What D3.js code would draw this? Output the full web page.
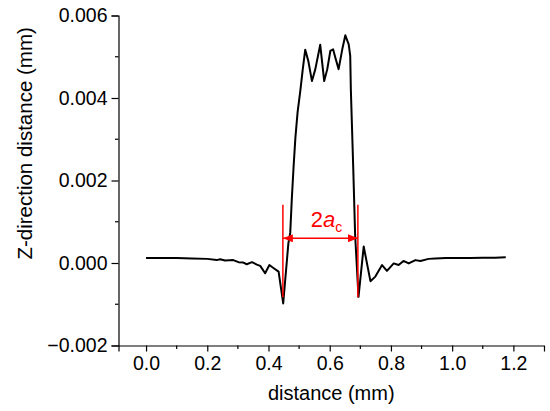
<!DOCTYPE html>
<html>
<head>
<meta charset="utf-8">
<script src="https://cdn.jsdelivr.net/npm/d3@7"></script>
<style>
  body { margin: 0; background: #fff; }
  text { font-family: "Liberation Sans", Arial, sans-serif; }
</style>
</head>
<body>
<div id="chart"></div>
<script>
// profile (mm)
var distance = [0.00, 0.05, 0.10, 0.15, 0.20, 0.231, 0.242, 0.258, 0.285, 0.302, 0.318, 0.329, 0.346, 0.362,
    0.373, 0.389, 0.403, 0.416, 0.433, 0.448, 0.465, 0.471, 0.476, 0.482, 0.488, 0.495, 0.504, 0.512,
    0.520, 0.530, 0.542, 0.553, 0.569, 0.582, 0.592, 0.602, 0.611, 0.618, 0.629, 0.641, 0.651, 0.662,
    0.667, 0.669, 0.673, 0.677, 0.683, 0.694, 0.711, 0.733, 0.749, 0.771, 0.787, 0.809, 0.825, 0.841,
    0.858, 0.880, 0.896, 0.923, 0.945, 0.98, 1.02, 1.06, 1.10, 1.14, 1.175];
var zDistance = [0.00012, 0.00012, 0.00012, 0.00011, 0.00010, 0.00007, 0.00009, 0.00006, 0.00007, 0.00002,
    0.00001, -0.00003, 0.00002, -0.00004, -0.00007, -0.00025, -0.00005, -0.00012, -0.00021, -0.00098,
    0.00048, 0.00073, 0.00153, 0.00234, 0.00305, 0.00365, 0.00418, 0.0047, 0.00517, 0.0049, 0.00441,
    0.0047, 0.00529, 0.00441, 0.0047, 0.00514, 0.00518, 0.00499, 0.0047, 0.00518, 0.00552, 0.0053,
    0.00502, 0.00421, 0.00324, 0.00226, 0.00068, -0.00082, 0.0004, -0.00044, -0.00033, -0.00005,
    -0.00019, -0.00001, -0.00005, 0.00005, -0.00001, 0.00007, 0.00005, 0.0001, 0.00011, 0.00012,
    0.00012, 0.00012, 0.00013, 0.00013, 0.00014];

var xTicks = [0.0, 0.2, 0.4, 0.6, 0.8, 1.0, 1.2];
var xMinor = [0.1, 0.3, 0.5, 0.7, 0.9, 1.1];
var yTicks = [-0.002, 0.000, 0.002, 0.004, 0.006];
var yMinor = [-0.001, 0.001, 0.003, 0.005];

// contact width marker 2a_c
var markX = [0.447, 0.692];
var markY = [-0.00083, 0.00141];
var arrowY = 0.0006;
var labelY = 0.00088;

var w = 550, h = 411;
var margin = {top: 15.5, right: 6, bottom: 65.5, left: 118.5};
var innerW = w - margin.left - margin.right,
    innerH = h - margin.top - margin.bottom;

var svg = d3.select('#chart').append('svg')
    .attr('width', w)
    .attr('height', h);

var g = svg.append('g')
    .attr('transform', 'translate(' + [margin.left, margin.top] + ')');

var x = d3.scaleLinear().domain([-0.09, 1.3]).range([0, innerW]);
var y = d3.scaleLinear().domain([-0.002, 0.006]).range([innerH, 0]);

// axes
var xAxis = g.append('g')
    .attr('transform', 'translate(0,' + innerH + ')')
    .call(d3.axisBottom(x).tickValues(xTicks).tickFormat(d3.format('.1f')).tickSizeOuter(0).tickSize(6).tickPadding(5));
xAxis.selectAll('line.minor')
    .data(xMinor).enter().append('line')
    .attr('class', 'minor')
    .attr('x1', function(d) { return x(d); })
    .attr('x2', function(d) { return x(d); })
    .attr('y1', 0).attr('y2', 3.5)
    .attr('stroke', '#000').attr('stroke-width', 1.2);

var yAxis = g.append('g')
    .call(d3.axisLeft(y).tickValues(yTicks).tickFormat(function(d) {
        return d3.format('.3f')(d).replace('-', '\u2212');
    }).tickSizeOuter(0).tickSize(7).tickPadding(4));
yAxis.selectAll('line.minor')
    .data(yMinor).enter().append('line')
    .attr('class', 'minor')
    .attr('y1', function(d) { return y(d); })
    .attr('y2', function(d) { return y(d); })
    .attr('x1', 0).attr('x2', -3.5)
    .attr('stroke', '#000').attr('stroke-width', 1.2);

g.selectAll('.domain').attr('stroke', '#000').attr('stroke-width', 1.2);
g.selectAll('.tick line').attr('stroke', '#000').attr('stroke-width', 1.2);
g.selectAll('.tick text')
    .attr('font-family', '"Liberation Sans", Arial, sans-serif')
    .attr('font-size', '19.5px')
    .attr('fill', '#000');

// axis titles
g.append('text')
    .attr('x', x(0.605))
    .attr('y', innerH + 54)
    .attr('text-anchor', 'middle')
    .attr('font-size', '20px')
    .text('distance (mm)');

g.append('text')
    .attr('transform', 'translate(' + (-87) + ',' + y(0.0029) + ') rotate(-90)')
    .attr('text-anchor', 'middle')
    .attr('font-size', '20.5px')
    .text('Z-direction distance (mm)');

// profile line
var line = d3.line()
    .x(function(d, i) { return x(distance[i]); })
    .y(function(d) { return y(d); });

g.append('path')
    .datum(zDistance)
    .attr('d', line)
    .attr('fill', 'none')
    .attr('stroke', '#000')
    .attr('stroke-width', 2)
    .attr('stroke-linejoin', 'round');

// red annotation
var red = '#ff0000';
svg.append('defs').append('marker')
    .attr('id', 'arrow')
    .attr('viewBox', '0 0 10 8')
    .attr('refX', 10).attr('refY', 4)
    .attr('markerWidth', 10).attr('markerHeight', 8)
    .attr('markerUnits', 'userSpaceOnUse')
    .attr('orient', 'auto-start-reverse')
    .append('path')
    .attr('d', 'M0,0 L10,4 L0,8 Z')
    .attr('fill', red);

g.selectAll('line.mark')
    .data(markX).enter().append('line')
    .attr('class', 'mark')
    .attr('x1', function(d) { return x(d); })
    .attr('x2', function(d) { return x(d); })
    .attr('y1', y(markY[0]))
    .attr('y2', y(markY[1]))
    .attr('stroke', red)
    .attr('stroke-width', 1.5);

g.append('line')
    .attr('x1', x(markX[0]))
    .attr('x2', x(markX[1]))
    .attr('y1', y(arrowY))
    .attr('y2', y(arrowY))
    .attr('stroke', red)
    .attr('stroke-width', 1.5)
    .attr('marker-start', 'url(#arrow)')
    .attr('marker-end', 'url(#arrow)');

var label = g.append('text')
    .attr('x', x((markX[0] + markX[1]) / 2) + 6)
    .attr('y', y(labelY))
    .attr('text-anchor', 'middle')
    .attr('font-size', '22px')
    .attr('fill', red);
label.append('tspan').text('2');
label.append('tspan').attr('font-style', 'italic').text('a');
label.append('tspan').attr('font-size', '14px').attr('dy', 5).text('c');
</script>
</body>
</html>
